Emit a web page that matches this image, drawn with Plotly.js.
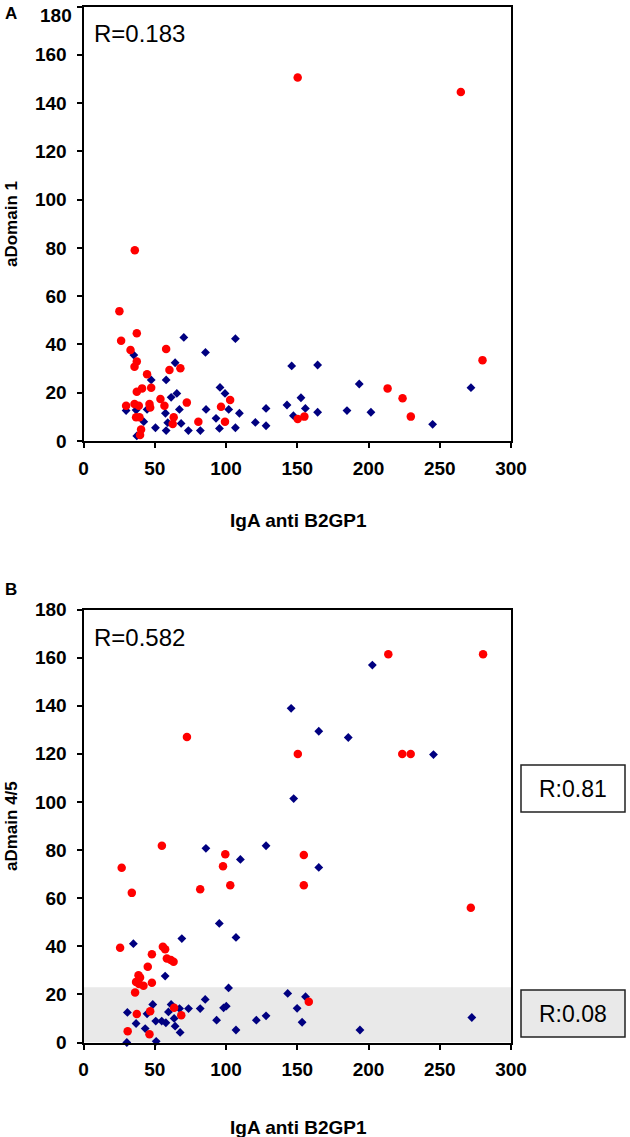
<!DOCTYPE html>
<html>
<head>
<meta charset="utf-8">
<script src="https://cdn.plot.ly/plotly-3.0.1.min.js"></script>
<style>html,body{margin:0;padding:0;background:#fff;}#chart{width:630px;height:1137px;}</style>
</head>
<body>
<div id="chart"></div>
<script>
// ---------- Panel A data: aDomain 1 vs IgA anti B2GP1 ----------
const aRedX = [25.2,26.4,37.4,33,37.4,35.8,44.6,37.4,41.1,47.5,29.9,35.8,38.8,46.3,46.8,36.9,39.3,40.4,39.7,58,60.3,68,54,56.8,63.3,62.6,72.5,80.6,96.5,99.3,102.9,150.3,155,280,213.4,223.9,229.7,150.3,264.8,36];
const aRedY = [53.8,41.5,44.6,37.7,32.9,30.8,27.7,20.4,21.8,22.1,14.6,15.3,14.6,15.3,13.9,9.8,9.8,4.8,2.5,38.1,29.4,30.1,17.4,14.6,9.8,7,15.9,8,14.2,8,17,9.1,10.1,33.5,21.8,17.7,10.1,150.6,144.6,79];
const aBlueX = [29.9,35.3,36.9,37.4,42.3,44.6,47.5,50.5,57.5,58,58,59.1,61.5,64.3,65.5,67.3,68.5,70.4,73.6,82,86,85.6,93,95.8,99.3,95.4,101.9,106.6,106.6,109.4,120.6,128.1,128.1,142.8,146.1,147.3,152.6,155.7,164.3,164.3,184.9,193.5,201.7,245,271.9];
const aBlueY = [12.6,35.6,12.8,2.1,8,13.1,25.3,5.5,11.5,4.3,25.3,7.6,18.1,32.4,19.7,13.1,7.3,42.9,4.3,4.3,13.1,36.7,9.4,22.2,19.7,5.2,13.1,42.4,5.5,11.5,7.7,13.5,6.3,14.9,31.1,10.5,17.9,13.5,31.5,11.9,12.6,23.6,11.9,6.9,22.1];

// ---------- Panel B data: aDmain 4/5 vs IgA anti B2GP1 ----------
const bRedX = [26.8,33.9,25.7,55.7,57.3,48,58.5,61.3,63.2,45.1,38.6,39.7,36.9,39,42.1,48,36.2,37.4,46.8,31,46.3,63.6,68.6,55,81.9,97.9,99.5,103,154.6,154.6,271.8,158.1,72.6,213.9,280.4,150.4,223.7,229.6];
const bRedY = [72.6,62.2,39.4,39.8,38.8,36.7,34.9,34.3,33.6,31.5,28,27,25.2,24.3,23.6,24.8,20.8,11.8,13,4.7,3.4,14.4,11.3,81.8,63.7,73.3,78.3,65.4,77.9,65.4,56,16.9,127,161.4,161.4,119.9,119.9,119.9];
const bBlueX = [35,57.3,69,30.8,36.9,43.3,48.6,50.7,54.9,57.8,59.6,61.5,63.6,64.3,67.8,67.4,73.7,81.9,85.4,85.9,95.3,93.4,30.4,51,44.6,110.1,128.1,165.1,107,101.8,98.3,100.2,107,121.3,128.1,143.3,149.9,153.4,155.8,194,272.5,202.7,145.7,165.1,185.8,245.6,147.5];
const bBlueY = [41.1,27.6,43.2,12.5,7.9,5.8,15.8,8.9,8.9,8.2,12.7,15.8,10,6.8,4.2,14.1,14.1,14.1,17.9,80.7,49.5,9.3,0,0.5,11.9,76.1,81.8,72.8,43.7,22.7,14.4,15.1,5.2,9.3,11.1,20.4,14.2,8.4,19,5.2,10.4,156.9,138.9,129.4,126.8,119.7,101.4];

const xTicks = [0,50,100,150,200,250,300];
const yTicks = [0,20,40,60,80,100,120,140,160,180];
const bandTop = 23; // shaded low-titre band in panel B

const W = 630, H = 1137;
const px = v => v / W;
const py = v => 1 - v / H;
const FONT = 'Liberation Sans, Arial, sans-serif';
const RED = '#ff0000', BLUE = '#000080';
const TICKFONT = {family:FONT, size:19, color:'#000', weight:'bold'};

function axisX(anchor){
  return {anchor:anchor, range:[0,300], tickvals:xTicks, ticktext:xTicks.map(String),
    showline:true, linecolor:'#000', linewidth:2, mirror:true, ticks:'outside', ticklen:5, tickwidth:2, tickcolor:'#000',
    ticklabelstandoff:4, ticklabeloverflow:'allow',
    showgrid:false, zeroline:false, tickfont:TICKFONT, domain:[px(83.5), px(511)], fixedrange:true};
}
function axisY(anchor, top, bottom, labels){
  return {anchor:anchor, range:[0,180], tickvals:yTicks, ticktext:labels,
    showline:true, linecolor:'#000', linewidth:2, mirror:true, ticks:'outside', ticklen:5, tickwidth:2, tickcolor:'#000',
    ticklabelstandoff:6, ticklabeloverflow:'allow',
    showgrid:false, zeroline:false, tickfont:TICKFONT, domain:[py(bottom), py(top)], fixedrange:true};
}
// panel A: the top label (180) sits right at the page edge, so it is drawn as an annotation nudged down
const aLabels = yTicks.map((v,i) => i === yTicks.length-1 ? '' : String(v));
const bLabels = yTicks.map(String);

const dia = {symbol:'diamond', size:6.8, color:BLUE};
const dot = {symbol:'circle', size:8.5, color:RED};

const traces = [
  {type:'scatter', mode:'markers', x:aBlueX, y:aBlueY, xaxis:'x', yaxis:'y', marker:dia, hoverinfo:'skip', cliponaxis:false},
  {type:'scatter', mode:'markers', x:aRedX, y:aRedY, xaxis:'x', yaxis:'y', marker:dot, hoverinfo:'skip', cliponaxis:false},
  {type:'scatter', mode:'markers', x:bBlueX, y:bBlueY, xaxis:'x2', yaxis:'y2', marker:dia, hoverinfo:'skip', cliponaxis:false},
  {type:'scatter', mode:'markers', x:bRedX, y:bRedY, xaxis:'x2', yaxis:'y2', marker:dot, hoverinfo:'skip', cliponaxis:false}
];

const layout = {
  width:W, height:H, margin:{l:0,r:0,t:0,b:0}, showlegend:false,
  paper_bgcolor:'#fff', plot_bgcolor:'rgba(0,0,0,0)',
  xaxis: axisX('y'), yaxis: axisY('x', 6.5, 441, aLabels),
  xaxis2: axisX('y2'), yaxis2: axisY('x2', 609.5, 1042.5, bLabels),
  shapes:[
    {type:'rect', xref:'x2', yref:'y2', x0:0, x1:300, y0:0, y1:bandTop, fillcolor:'#e9e9e9', line:{width:0}, layer:'below'},
    {type:'rect', xref:'paper', yref:'paper', x0:px(521), x1:px(625), y0:py(765), y1:py(812), fillcolor:'#fff', line:{color:'#222', width:1.5}},
    {type:'rect', xref:'paper', yref:'paper', x0:px(521), x1:px(625), y0:py(990), y1:py(1037), fillcolor:'#e9e9e9', line:{color:'#222', width:1.5}}
  ],
  annotations:[
    {text:'<b>' + yTicks[yTicks.length-1] + '</b>', xref:'paper', yref:'paper', x:px(74), y:py(3), xanchor:'right', yanchor:'top', showarrow:false, font:{family:FONT, size:19, color:'#000'}},
    {text:'<b>A</b>', xref:'paper', yref:'paper', x:px(3), y:py(14), xanchor:'left', yanchor:'middle', showarrow:false, font:{family:FONT, size:17, color:'#000'}},
    {text:'<b>B</b>', xref:'paper', yref:'paper', x:px(3), y:py(589), xanchor:'left', yanchor:'middle', showarrow:false, font:{family:FONT, size:17, color:'#000'}},
    {text:'R=0.183', xref:'paper', yref:'paper', x:px(92), y:py(34), xanchor:'left', yanchor:'middle', showarrow:false, font:{family:FONT, size:24, color:'#000'}},
    {text:'R=0.582', xref:'paper', yref:'paper', x:px(92), y:py(637), xanchor:'left', yanchor:'middle', showarrow:false, font:{family:FONT, size:24, color:'#000'}},
    {text:'<b>aDomain 1</b>', xref:'paper', yref:'paper', x:px(11), y:py(224), xanchor:'center', yanchor:'middle', textangle:-90, showarrow:false, font:{family:FONT, size:17, color:'#000'}},
    {text:'<b>aDmain 4/5</b>', xref:'paper', yref:'paper', x:px(11), y:py(826), xanchor:'center', yanchor:'middle', textangle:-90, showarrow:false, font:{family:FONT, size:17, color:'#000'}},
    {text:'<b>IgA anti B2GP1</b>', xref:'paper', yref:'paper', x:px(298), y:py(520), xanchor:'center', yanchor:'middle', showarrow:false, font:{family:FONT, size:19, color:'#000'}},
    {text:'<b>IgA anti B2GP1</b>', xref:'paper', yref:'paper', x:px(298), y:py(1127), xanchor:'center', yanchor:'middle', showarrow:false, font:{family:FONT, size:19, color:'#000'}},
    {text:'R:0.81', xref:'paper', yref:'paper', x:px(573), y:py(789), xanchor:'center', yanchor:'middle', showarrow:false, font:{family:FONT, size:23, color:'#000'}},
    {text:'R:0.08', xref:'paper', yref:'paper', x:px(573), y:py(1014), xanchor:'center', yanchor:'middle', showarrow:false, font:{family:FONT, size:23, color:'#000'}}
  ]
};

Plotly.newPlot('chart', traces, layout, {staticPlot:true, displayModeBar:false});
</script>
</body>
</html>
